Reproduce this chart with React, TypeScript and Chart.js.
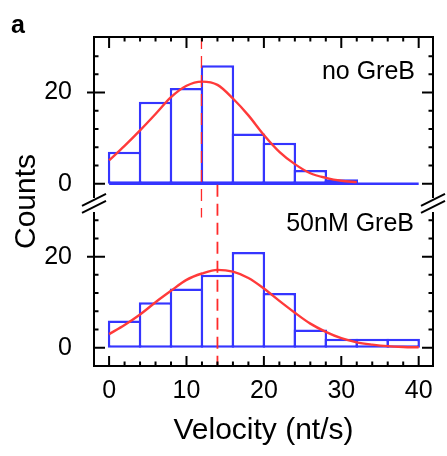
import React, { useEffect, useRef } from 'react';
import { Chart, registerables } from 'chart.js';

Chart.register(...registerables);

// ---------- data ----------
const binEdges = [0, 4, 8, 12, 16, 20, 24, 28, 32, 36, 40];
const countsNoGreB = [7, 18, 21, 26, 11, 9, 3, 1, 0, 0];
const counts50nM = [6, 10, 13, 16, 21, 12, 4, 2, 2, 2];

const fitXNoGreB = [0, 2, 4, 6, 8, 10, 12, 14, 16, 18, 20, 22, 24, 26, 28, 30, 32];
const fitYNoGreB = [5.1, 8.3, 11.7, 15.3, 19.0, 21.5, 22.4, 21.7, 18.7, 15.0, 10.7, 7.0, 4.3, 2.3, 1.3, 0.65, 0.35];

const fitX50nM = [0, 2, 4, 6, 8, 10, 12, 14, 16, 18, 20, 22, 24, 26, 28, 30, 32, 34, 36, 38, 40];
const fitY50nM = [3.0, 5.0, 7.3, 10.0, 12.5, 14.9, 16.3, 17.1, 16.7, 15.3, 13.0, 10.3, 7.7, 5.3, 3.5, 2.1, 1.2, 0.7, 0.35, 0.18, 0.1];

const meanNoGreB = 12;
const mean50nM = 14;

const xTicks = [0, 2, 4, 6, 8, 10, 12, 14, 16, 18, 20, 22, 24, 26, 28, 30, 32, 34, 36, 38, 40];
const xLabelTicks = [0, 10, 20, 30, 40];
const yTicks = [0, 4, 8, 12, 16, 20, 24, 28];
const yLabelTicks = [0, 20];

const panelLabels = ['no GreB', '50nM GreB'];
const xTitle = 'Velocity (nt/s)';
const yTitle = 'Counts';
const figLetter = 'a';

// ---------- styles ----------
const FONT = '"Liberation Sans", Arial, Helvetica, sans-serif';
const BLUE = '#3535ff';
const RED = '#ff3a3a';
const DASH_RED = '#ff2a2a';

export default function App() {
  const ref = useRef<HTMLCanvasElement>(null);

  useEffect(() => {
    document.body.style.margin = '0';
    const canvas = ref.current;
    if (!canvas) return;

    const toBars = (counts: number[]) =>
      counts.map((c, i) => ({ x: (binEdges[i] + binEdges[i + 1]) / 2, y: c }));
    const toPts = (xs: number[], ys: number[]) => xs.map((x, i) => ({ x, y: ys[i] }));

    const framePlugin = {
      id: 'frameAndMarks',
      afterDatasetsDraw(chart: any) {
        const { ctx, scales } = chart;
        const x = scales.x, yT = scales.yTop, yB = scales.yBot;
        ctx.save();
        ctx.strokeStyle = DASH_RED;
        ctx.setLineDash([12, 7]);
        ctx.lineWidth = 1.3;
        let px = x.getPixelForValue(meanNoGreB) - 0.5;
        ctx.beginPath();
        ctx.moveTo(px, yT.top);
        ctx.lineTo(px, yB.getPixelForValue(28.6));
        ctx.stroke();
        ctx.lineWidth = 1.8;
        px = x.getPixelForValue(mean50nM);
        ctx.beginPath();
        ctx.moveTo(px, yT.getPixelForValue(-0.2));
        ctx.lineTo(px, yB.bottom);
        ctx.stroke();
        ctx.restore();
      },
      afterDraw(chart: any) {
        const { ctx, chartArea, scales } = chart;
        const x = scales.x, yT = scales.yTop, yB = scales.yBot;
        const L = chartArea.left, R = chartArea.right, T = chartArea.top, B = chartArea.bottom;
        const boundary = yT.bottom;
        const gapA = boundary - 4, gapB = boundary + 10;
        ctx.save();
        ctx.strokeStyle = '#000';
        ctx.lineWidth = 2;
        ctx.lineCap = 'butt';
        ctx.beginPath();
        ctx.moveTo(L - 1, T); ctx.lineTo(R + 1, T);
        ctx.moveTo(L - 1, B); ctx.lineTo(R + 1, B);
        for (const ax of [L, R]) {
          ctx.moveTo(ax, T); ctx.lineTo(ax, gapA);
          ctx.moveTo(ax, gapB); ctx.lineTo(ax, B);
        }
        ctx.stroke();
        ctx.beginPath();
        for (const ax of [L, R]) {
          for (const c of [boundary - 2, boundary + 5]) {
            ctx.moveTo(ax - 12, c + 6);
            ctx.lineTo(ax + 12, c - 6);
          }
        }
        ctx.stroke();
        ctx.beginPath();
        for (const v of xTicks) {
          const p = x.getPixelForValue(v);
          const major = xLabelTicks.includes(v);
          const lb = major ? 10 : 4.5;
          const lt = major ? 11 : 4.5;
          ctx.moveTo(p, B); ctx.lineTo(p, B - lb);
          ctx.moveTo(p, T); ctx.lineTo(p, T + lt);
        }
        for (const sc of [yT, yB]) {
          for (const v of yTicks) {
            const p = sc.getPixelForValue(v);
            const major = yLabelTicks.includes(v);
            const len = major ? 11 : 4.5;
            const out = major && v !== 0 ? 7 : 0;
            ctx.moveTo(L - out, p); ctx.lineTo(L + len, p);
            ctx.moveTo(R, p); ctx.lineTo(R - len, p);
          }
        }
        ctx.stroke();

        ctx.fillStyle = '#000';
        ctx.textBaseline = 'alphabetic';
        ctx.font = `bold 25px ${FONT}`;
        ctx.textAlign = 'left';
        ctx.fillText(figLetter, 11, 33);

        ctx.font = `25px ${FONT}`;
        ctx.textAlign = 'right';
        ctx.fillText(panelLabels[0], R - 18, yT.top + 42);
        ctx.fillText(panelLabels[1], R - 19, yB.top + 29);

        ctx.save();
        ctx.translate(35, (yT.top + yB.bottom) / 2);
        ctx.rotate(-Math.PI / 2);
        ctx.font = `30px ${FONT}`;
        ctx.textAlign = 'center';
        ctx.fillText(yTitle, 0, 0);
        ctx.restore();
        ctx.restore();
      },
    };

    const yAxis = (weight: number, max: number) => ({
      type: 'linear',
      position: 'left',
      stack: 'panels',
      stackWeight: weight,
      min: -4,
      max,
      grid: { display: false, drawTicks: false },
      border: { display: false },
      afterBuildTicks: (s: any) => {
        s.ticks = yLabelTicks.map((v) => ({ value: v }));
      },
      afterFit: (s: any) => {
        s.width = 94;
      },
      ticks: {
        autoSkip: false,
        padding: 22,
        color: '#000',
        font: { family: FONT, size: 25 },
        callback: (v: any) => String(v),
      },
    });

    const barDataset = (label: string, counts: number[], axis: string) => ({
      type: 'bar',
      label,
      data: toBars(counts),
      yAxisID: axis,
      backgroundColor: '#ffffff',
      borderColor: BLUE,
      borderWidth: 2.5,
      borderSkipped: false,
      inflateAmount: 0,
      grouped: false,
      // slightly wider than the bin so neighbouring borders overlap into one edge
      barPercentage: 1.081,
      categoryPercentage: 1,
      order: 3,
    });

    const chart = new Chart(canvas, {
      type: 'bar',
      data: {
        datasets: [
          {
            type: 'line',
            label: 'fit no GreB',
            data: toPts(fitXNoGreB, fitYNoGreB),
            yAxisID: 'yTop',
            borderColor: RED,
            borderWidth: 2.4,
            pointRadius: 0,
            cubicInterpolationMode: 'monotone',
            order: 1,
          },
          {
            type: 'line',
            label: 'fit 50nM',
            data: toPts(fitX50nM, fitY50nM),
            yAxisID: 'yBot',
            borderColor: RED,
            borderWidth: 2.4,
            pointRadius: 0,
            cubicInterpolationMode: 'monotone',
            order: 1,
          },
          {
            type: 'line',
            label: 'baseline',
            data: [
              { x: binEdges[0], y: 0 },
              { x: binEdges[binEdges.length - 1], y: 0 },
            ],
            yAxisID: 'yTop',
            borderColor: BLUE,
            borderWidth: 2.5,
            pointRadius: 0,
            order: 4,
          },
          barDataset(panelLabels[0], countsNoGreB, 'yTop'),
          barDataset(panelLabels[1], counts50nM, 'yBot'),
        ] as any,
      },
      options: {
        responsive: false,
        animation: false,
        events: [],
        layout: { padding: { top: 5, right: 14, left: 0, bottom: 0 } },
        plugins: { legend: { display: false }, tooltip: { enabled: false } },
        scales: {
          x: {
            type: 'linear',
            min: -1.95,
            max: 41.85,
            offset: false,
            grid: { display: false, drawTicks: false },
            border: { display: false },
            afterBuildTicks: (s: any) => {
              s.ticks = xLabelTicks.map((v) => ({ value: v }));
            },
            afterFit: (s: any) => {
              s.height = 90;
            },
            ticks: {
              autoSkip: false,
              maxRotation: 0,
              padding: 10,
              color: '#000',
              font: { family: FONT, size: 25 },
              callback: (v: any) => String(v),
            },
            title: {
              display: true,
              text: xTitle,
              color: '#000',
              font: { family: FONT, size: 30 },
              padding: { top: 0, bottom: 7 },
            },
          },
          yBot: yAxis(180, 32),
          yTop: yAxis(181, 32.2),
        } as any,
      },
      plugins: [framePlugin],
    });

    return () => chart.destroy();
  }, []);

  return (
    <div style={{ position: 'absolute', left: 0, top: 0, width: 447, height: 456 }}>
      <canvas ref={ref} width={447} height={456} style={{ display: 'block' }} />
    </div>
  );
}
